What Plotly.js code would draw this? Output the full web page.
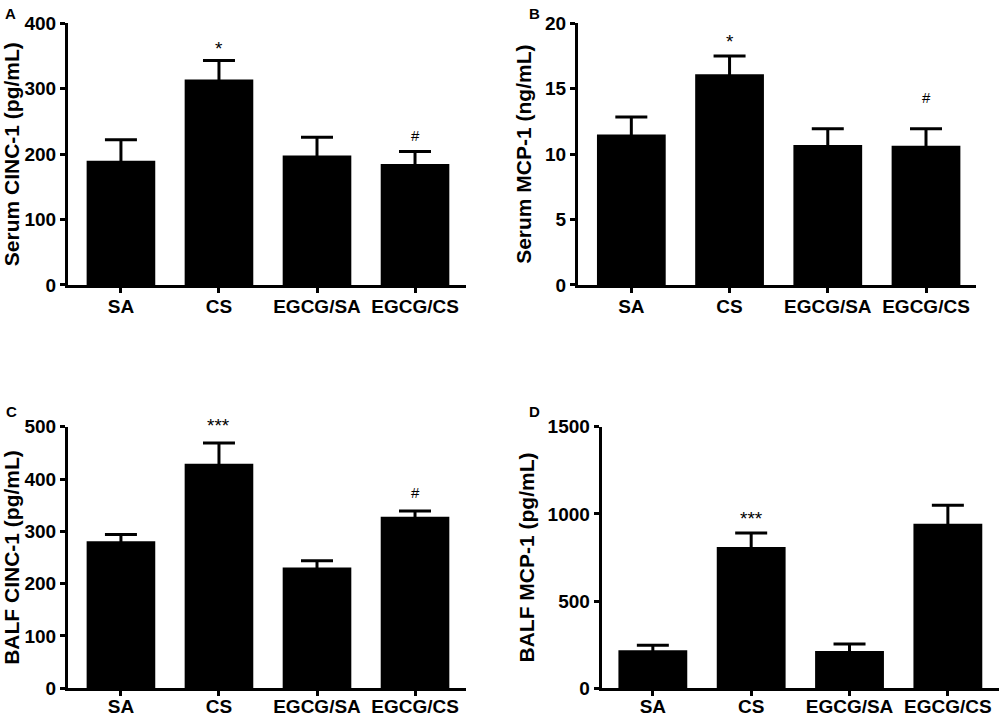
<!DOCTYPE html>
<html>
<head>
<meta charset="utf-8">
<script src="https://cdn.plot.ly/plotly-3.0.1.min.js"></script>
<style>html,body{margin:0;padding:0;background:#fff;}#chart{width:1000px;height:718px;}</style>
</head>
<body>
<div id="chart"></div>
<script>
const categories = ['SA', 'CS', 'EGCG/SA', 'EGCG/CS'];

const serumCINC = [190, 314, 198, 185];
const serumCINCErr = [32, 29, 28, 19];

const serumMCP = [11.5, 16.1, 10.7, 10.65];
const serumMCPErr = [1.35, 1.4, 1.25, 1.3];

const balfCINC = [281, 429, 231, 328];
const balfCINCErr = [13, 40, 13, 11];

const balfMCP = [218, 810, 214, 944];
const balfMCPErr = [29, 80, 40, 105];

// y-axis ranges
const rangeA = [0, 400];
const rangeB = [0, 20];
const rangeC = [0, 500];
const rangeD = [0, 1500];

// significance marks
const marksACat = ['CS', 'EGCG/CS'];
const marksAText = ['*', '#'];
const marksAY = [362, 229];

const marksBCat = ['CS', 'EGCG/CS'];
const marksBText = ['*', '#'];
const marksBY = [18.6, 14.3];

const marksCCat = ['CS', 'EGCG/CS'];
const marksCText = ['***', '#'];
const marksCY = [503, 374];

const marksDCat = ['CS'];
const marksDText = ['***'];
const marksDY = [975];

const FONT = 'Liberation Sans, Arial, Helvetica, sans-serif';

function barTrace(vals, errs, xa, ya) {
  return {
    type: 'bar', x: categories, y: vals, xaxis: xa, yaxis: ya,
    width: 0.7,
    marker: {color: '#000000', line: {width: 0}},
    error_y: {type: 'data', array: errs, symmetric: true,
              color: '#000000', thickness: 3, width: 16, visible: true},
    showlegend: false, hoverinfo: 'x+y'
  };
}

const data = [
  barTrace(serumCINC, serumCINCErr, 'x', 'y'),
  barTrace(serumMCP, serumMCPErr, 'x2', 'y2'),
  barTrace(balfCINC, balfCINCErr, 'x3', 'y3'),
  barTrace(balfMCP, balfMCPErr, 'x4', 'y4')
];

function xaxis(domain, range, anchor, standoff) {
  return {
    domain: domain, range: range, anchor: anchor, type: 'category',
    showline: true, linewidth: 3, linecolor: '#000',
    ticks: 'outside', ticklen: 5, tickwidth: 3, tickcolor: '#000',
    ticklabelstandoff: standoff,
    showgrid: false, zeroline: false, fixedrange: true,
    tickfont: {family: FONT, size: 19, color: '#000', weight: 'bold'}
  };
}
function yaxis(domain, range, dtick, title, anchor) {
  return {
    domain: domain, range: range, dtick: dtick, anchor: anchor,
    showline: true, linewidth: 3, linecolor: '#000',
    ticks: 'outside', ticklen: 5, tickwidth: 3, tickcolor: '#000',
    showgrid: false, zeroline: false, fixedrange: true,
    tickfont: {family: FONT, size: 19, color: '#000', weight: 'bold'},
    title: {text: title, standoff: 8, font: {family: FONT, size: 21, color: '#000', weight: 'bold'}}
  };
}

const topY = [0.6031, 0.9675];
const botY = [0.0414, 0.4057];

const annotations = [];
function addMarks(cats, texts, ys, range, xref, yref) {
  cats.forEach((c, i) => annotations.push({
    x: c, xref: xref,
    y: (ys[i] - range[0]) / (range[1] - range[0]), yref: yref + ' domain',
    text: texts[i], showarrow: false, xanchor: 'center', yanchor: 'middle',
    font: {family: FONT, color: '#000', size: texts[i] === '#' ? 15 : 19}
  }));
}
addMarks(marksACat, marksAText, marksAY, rangeA, 'x', 'y');
addMarks(marksBCat, marksBText, marksBY, rangeB, 'x2', 'y2');
addMarks(marksCCat, marksCText, marksCY, rangeC, 'x3', 'y3');
addMarks(marksDCat, marksDText, marksDY, rangeD, 'x4', 'y4');

const panelLabels = [['A', 3, 3], ['B', 527, 3], ['C', 4, 401], ['D', 527, 401]];
panelLabels.forEach(p => annotations.push({
  x: p[1] / 1000, y: 1 - p[2] / 718, xref: 'paper', yref: 'paper', text: p[0],
  showarrow: false, xanchor: 'left', yanchor: 'top',
  font: {family: FONT, size: 15, color: '#000', weight: 'bold'}
}));

const layout = {
  width: 1000, height: 718,
  margin: {l: 0, r: 0, t: 0, b: 0},
  paper_bgcolor: '#fff', plot_bgcolor: '#fff',
  showlegend: false,
  xaxis: xaxis([0.068, 0.466], [-0.54, 3.52], 'y', -3),
  yaxis: yaxis(topY, rangeA, 100, 'Serum CINC-1 (pg/mL)', 'x'),
  xaxis2: xaxis([0.578, 0.9757], [-0.543, 3.506], 'y2', -3),
  yaxis2: yaxis(topY, rangeB, 5, 'Serum MCP-1 (ng/mL)', 'x2'),
  xaxis3: xaxis([0.068, 0.466], [-0.54, 3.52], 'y3', -6),
  yaxis3: yaxis(botY, rangeC, 100, 'BALF CINC-1 (pg/mL)', 'x3'),
  xaxis4: xaxis([0.6017, 0.999], [-0.52, 3.52], 'y4', -6),
  yaxis4: yaxis(botY, rangeD, 500, 'BALF MCP-1 (pg/mL)', 'x4'),
  annotations: annotations
};

Plotly.newPlot('chart', data, layout, {displayModeBar: false, staticPlot: true});
</script>
</body>
</html>
